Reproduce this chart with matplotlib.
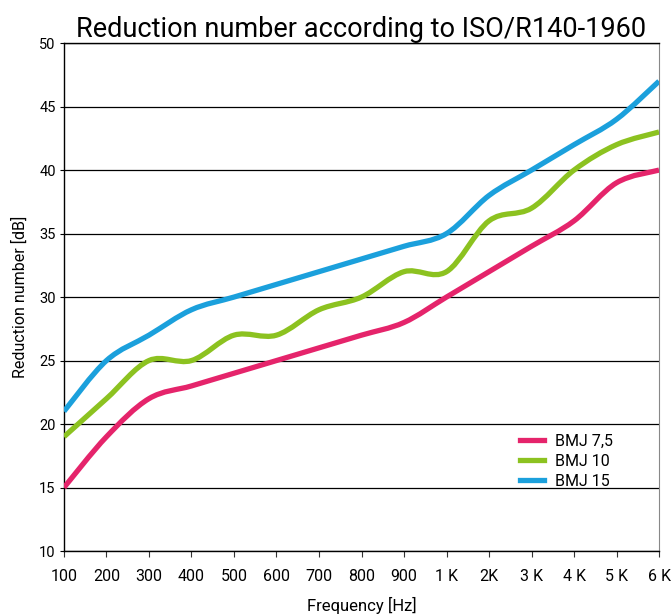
import matplotlib.pyplot as plt
import numpy as np
from matplotlib.path import Path
from matplotlib.patches import PathPatch
from matplotlib.lines import Line2D

plt.rcParams['font.family'] = ['Roboto', 'DejaVu Sans']

# data
freqs = ['100', '200', '300', '400', '500', '600', '700', '800', '900',
         '1 K', '2K', '3 K', '4 K', '5 K', '6 K']
bmj_75 = [15, 19, 22, 23, 24, 25, 26, 27, 28, 30, 32, 34, 36, 39, 40]
bmj_10 = [19, 22, 25, 25, 27, 27, 29, 30, 32, 32, 36, 37, 40, 42, 43]
bmj_15 = [21, 25, 27, 29, 30, 31, 32, 33, 34, 35, 38, 40, 42, 44, 47]

series = [('BMJ 7,5', bmj_75, '#e5246b'),
          ('BMJ 10', bmj_10, '#8cc220'),
          ('BMJ 15', bmj_15, '#1ba0dc')]


def smooth_path(x, y):
    # catmull-rom through the points, written as bezier segments
    pts = np.column_stack([x, y]).astype(float)
    verts = [pts[0]]
    codes = [Path.MOVETO]
    n = len(pts)
    for i in range(n - 1):
        p0 = pts[max(i - 1, 0)]
        p1 = pts[i]
        p2 = pts[i + 1]
        p3 = pts[min(i + 2, n - 1)]
        c1 = p1 + (p2 - p0) / 6.0
        c2 = p2 - (p3 - p1) / 6.0
        verts += [c1, c2, p2]
        codes += [Path.CURVE4] * 3
    return Path(verts, codes)


fig = plt.figure(figsize=(6.72, 6.16), dpi=100)
ax = fig.add_axes([0.0952, 0.1055, 0.8855, 0.8245])

x = np.arange(len(freqs))
for name, vals, col in series:
    patch = PathPatch(smooth_path(x, vals), facecolor='none', edgecolor=col,
                      lw=3.8, capstyle='butt', zorder=3)
    ax.add_patch(patch)

ax.set_xlim(0, len(freqs) - 1)
ax.set_ylim(10, 50)
ax.set_yticks(range(10, 51, 5))
ax.set_xticks(x)
ax.set_xticklabels(freqs)
ax.grid(axis='y', color='black', lw=0.9)
ax.set_axisbelow(True)

ax.tick_params(axis='x', labelsize=11.5, length=4, pad=9, color='#333333')
ax.tick_params(axis='y', labelsize=10.5, length=3, pad=3)
for s in ['left', 'bottom', 'top']:
    ax.spines[s].set_color('black')
    ax.spines[s].set_linewidth(1.0)
ax.spines['right'].set_color('#888888')

ax.set_title('Reduction number according to ISO/R140-1960', fontsize=19.5,
             pad=3)
ax.set_xlabel('Frequency [Hz]', fontsize=12, labelpad=9)
ax.set_ylabel('Reduction number [dB]', fontsize=11.5, labelpad=8)

handles = [Line2D([], [], color=c, lw=3.8) for _, _, c in series]
ax.legend(handles, [n for n, _, _ in series], loc='upper left',
          bbox_to_anchor=(0.755, 0.243), frameon=False, fontsize=11.5,
          handlelength=1.5, handletextpad=0.7, labelspacing=0.3,
          borderaxespad=0)

fig.savefig('out.png', dpi=100)
